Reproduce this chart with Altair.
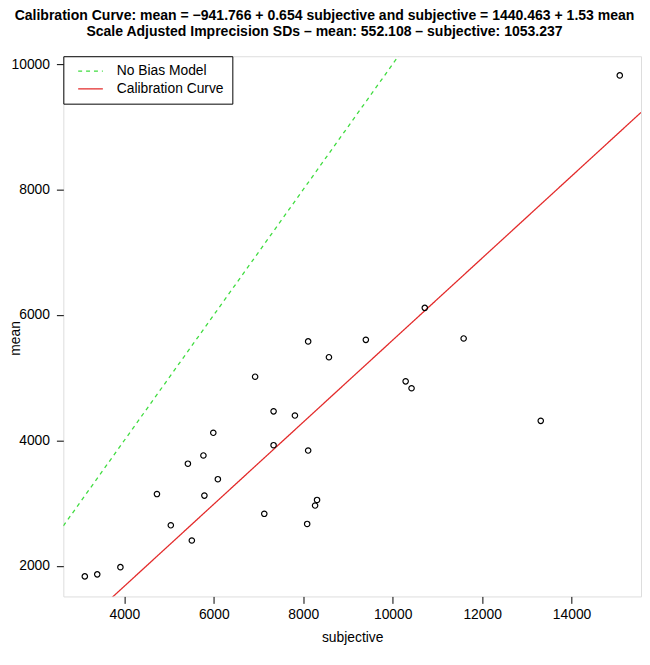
import altair as alt
import pandas as pd

# ---- data ----
subjective = [3116, 3394, 3912, 4729, 5039, 5509, 5790, 6091, 7129, 8088, 8265, 8309,
              5421, 5768, 5989, 6924, 7337, 7814, 7337, 8110, 8110, 8575, 9400,
              10290, 10422, 10718, 11587, 13311, 15078]
mean = [1831, 1863, 1978, 3144, 2646, 2403, 3119, 3381, 2829, 2667, 2961, 3050,
        3628, 3759, 4121, 5015, 4463, 4396, 3923, 3838, 5578, 5326, 5603,
        4941, 4831, 6113, 5625, 4311, 9820]

x_ticks = [4000, 6000, 8000, 10000, 12000, 14000]
y_ticks = [2000, 4000, 6000, 8000, 10000]
x_domain = [2636, 15553]
y_domain = [1511, 10126]

series = ["No Bias Model", "Calibration Curve"]
intercepts = [0.0, -941.766]
slopes = [1.0, 0.654]
colors = ["#3fdc3f", "#e32a2a"]
dashes = [[4, 4], [1, 0]]

title_lines = [
    "Calibration Curve: mean = \u2212941.766 + 0.654 subjective and subjective = 1440.463 + 1.53 mean",
    "Scale Adjusted Imprecision SDs \u2013 mean: 552.108 \u2013 subjective: 1053.237",
]

FONT = "Liberation Sans"

rows = []
for s, a, b in zip(series, intercepts, slopes):
    for xv in x_domain:
        rows.append({"series": s, "subjective": xv, "mean": a + b * xv})
lines_df = pd.DataFrame(rows)
pts_df = pd.DataFrame({"subjective": subjective, "mean": mean})

xscale = alt.Scale(domain=x_domain, nice=False, zero=False)
yscale = alt.Scale(domain=y_domain, nice=False, zero=False)

xaxis = alt.Axis(values=x_ticks, title="subjective", grid=False, domain=False,
                 tickSize=7, tickColor="black", labelPadding=4, labelFontSize=14,
                 labelFont=FONT, titleFont=FONT, titleFontSize=14,
                 titleFontWeight="normal", labelColor="black", titleColor="black",
                 titlePadding=10, format="d")
yaxis = alt.Axis(values=y_ticks, title="mean", grid=False, domain=False,
                 tickSize=7, tickColor="black", labelPadding=7, labelFontSize=14,
                 labelFont=FONT, titleFont=FONT, titleFontSize=14,
                 titleFontWeight="normal", labelColor="black", titleColor="black",
                 titleX=-41, titleY=285, format="d")

legend = alt.Legend(orient="top-left", offset=0, title=None, strokeColor="black",
                    fillColor="white", padding=8, labelFontSize=14, labelFont=FONT,
                    labelColor="black", symbolType="M0,0H4", symbolSize=156,
                    symbolStrokeWidth=1.3, labelOffset=32, rowPadding=4)

lines = alt.Chart(lines_df).mark_line(clip=True, strokeWidth=1.3).encode(
    x=alt.X("subjective:Q", scale=xscale, axis=xaxis),
    y=alt.Y("mean:Q", scale=yscale, axis=yaxis),
    color=alt.Color("series:N", scale=alt.Scale(domain=series, range=colors), legend=legend),
    strokeDash=alt.StrokeDash("series:N", scale=alt.Scale(domain=series, range=dashes), legend=legend),
    detail="series:N",
)

points = alt.Chart(pts_df).mark_point(shape="circle", filled=False, size=30,
                                      strokeWidth=1.2, color="black", opacity=1).encode(
    x=alt.X("subjective:Q", scale=xscale),
    y=alt.Y("mean:Q", scale=yscale),
)

chart = alt.layer(lines, points).properties(
    width=584.5,
    height=546.6,
    autosize=alt.AutoSizeParams(type="none"),
    padding={"left": 56, "top": 45, "right": 1, "bottom": 52},
    title=alt.TitleParams(text=title_lines, font=FONT, fontSize=14.2, fontWeight="bold",
                          anchor="middle", dx=-28, offset=17, lineHeight=16, color="black"),
).configure_view(stroke="black", strokeWidth=1).configure(background="white")

chart.save("out.html", embed_options={"renderer": "svg", "actions": False})
